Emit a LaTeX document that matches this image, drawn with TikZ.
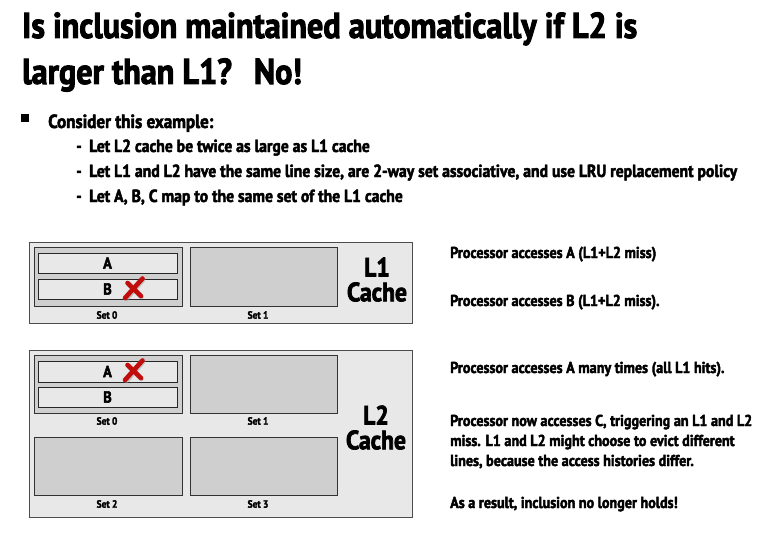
\documentclass[tikz,border=0pt]{standalone}
\usepackage{fontspec}
\setmainfont{PT Sans}[FakeStretch=0.895,BoldFeatures={FakeBold=2.6}]
\begin{document}
\begin{tikzpicture}[x=1pt,y=-1pt,
  txt/.style={inner sep=0pt,font=\bfseries},
  outerbox/.style={draw=black!70,fill=black!9,line width=0.9pt,minimum width=383pt,inner sep=0pt},
  setbox/.style={draw=black!80,fill=black!19,line width=0.8pt,minimum width=147pt,minimum height=58pt,inner sep=0pt},
  linebox/.style={draw=black!85,fill=black!9,line width=0.8pt,minimum width=139pt,minimum height=20pt,inner sep=0pt,font=\bfseries\fontsize{16}{16}\selectfont},
  setlbl/.style={inner sep=0pt,font=\bfseries\fontsize{10.5}{10.5}\selectfont},
  cachelbl/.style={inner sep=0pt,font=\bfseries\fontsize{26.5}{26.5}\selectfont},
  note/.style={anchor=base west,inner sep=0pt,font=\bfseries\fontsize{15.8}{15.8}\selectfont},
  redx/.style={line width=4.6pt,line cap=round,draw=red!75!black!95}
]
\useasboundingbox (0,0) rectangle (771,543);

% title
\node[txt,anchor=base west,font=\bfseries\fontsize{36}{36}\selectfont] (t1) at (22,38) {Is inclusion maintained automatically if L2 is};
\node[txt,anchor=base west,font=\bfseries\fontsize{36}{36}\selectfont] (t2) at (22,84) {larger than L1?\hspace{22pt}No!};

% bullets
\fill (21,114) rectangle (29,122);
\node[txt,anchor=base west,font=\bfseries\fontsize{19}{19}\selectfont] (b0) at (48,128) {Consider this example:};
\foreach \yy/\tt [count=\i] in {152/{Let L2 cache be twice as large as L1 cache},
  177/{Let L1 and L2 have the same line size, are 2-way set associative, and use LRU replacement policy},
  202/{Let A, B, C map to the same set of the L1 cache}}{
  \node[txt,anchor=base west,font=\bfseries\fontsize{17.5}{17.5}\selectfont] (d\i) at (76,\yy) {-};
  \node[txt,anchor=base west,font=\bfseries\fontsize{17.5}{17.5}\selectfont] (s\i) at (89,\yy) {\tt};
}

% L1 cache
\node[outerbox,minimum height=81pt] (l1) at (220.5,282.5) {};
\node[setbox,minimum width=148pt,minimum height=59pt] (l1s0) at (108,276.5) {};
\node[linebox] (l1a) at (107.5,263) {A};
\node[linebox] (l1b) at (107.5,289) {B};
\node[setbox,minimum height=59pt] (l1s1) at (263.5,276.5) {};
\node[setlbl] (l1s0l) at (107,315) {Set 0};
\node[setlbl] (l1s1l) at (258,315) {Set 1};
\node[cachelbl] (l1n) at (377,267) {L1};
\node[cachelbl] (l1c) at (377,292) {Cache};

% L2 cache
\node[outerbox,minimum height=167pt] (l2) at (220.5,433.5) {};
\node[setbox,minimum width=148pt] (l2s0) at (108,384) {};
\node[linebox,minimum height=21pt] (l2a) at (107.5,371.5) {A};
\node[linebox] (l2b) at (107.5,397) {B};
\node[setbox] (l2s1) at (263.5,384) {};
\node[setbox,minimum width=148pt] (l2s2) at (108,466) {};
\node[setbox] (l2s3) at (263.5,466) {};
\node[setlbl] (l2s0l) at (107,421) {Set 0};
\node[setlbl] (l2s1l) at (258,421) {Set 1};
\node[setlbl] (l2s2l) at (107,504) {Set 2};
\node[setlbl] (l2s3l) at (258,504) {Set 3};
\node[cachelbl] (l2n) at (376,415) {L2};
\node[cachelbl] (l2c) at (376,440) {Cache};

% eviction marks
\foreach \cx/\cy/\nm in {133/288/xa,133/370/xb}{
  \coordinate (\nm) at (\cx,\cy);
  \begin{scope}[shift={(\nm)}]
    \draw[redx,draw=black!40,opacity=0.5] (10,-8) -- (-6.5,11);
    \draw[redx,draw=black!40,opacity=0.5] (-4.5,-3.5) -- (8.5,9);
    \draw[redx] (9.5,-9.5) -- (-8,10);
    \draw[redx] (-5.5,-5) -- (8,8);
  \end{scope}
}

% right-hand notes
\node[note] (n1) at (450,258) {Processor accesses A (L1+L2 miss)};
\node[note] (n2) at (450,306) {Processor accesses B (L1+L2 miss).};
\node[note] (n3) at (450,373) {Processor accesses A many times (all L1 hits).};
\node[note] (n4) at (450,426) {Processor now accesses C, triggering an L1 and L2};
\node[note] (n5) at (450,446) {miss. L1 and L2 might choose to evict different};
\node[note] (n6) at (450,466) {lines, because the access histories differ.};
\node[note] (n7) at (450,508) {As a result, inclusion no longer holds!};
\end{tikzpicture}
\end{document}
